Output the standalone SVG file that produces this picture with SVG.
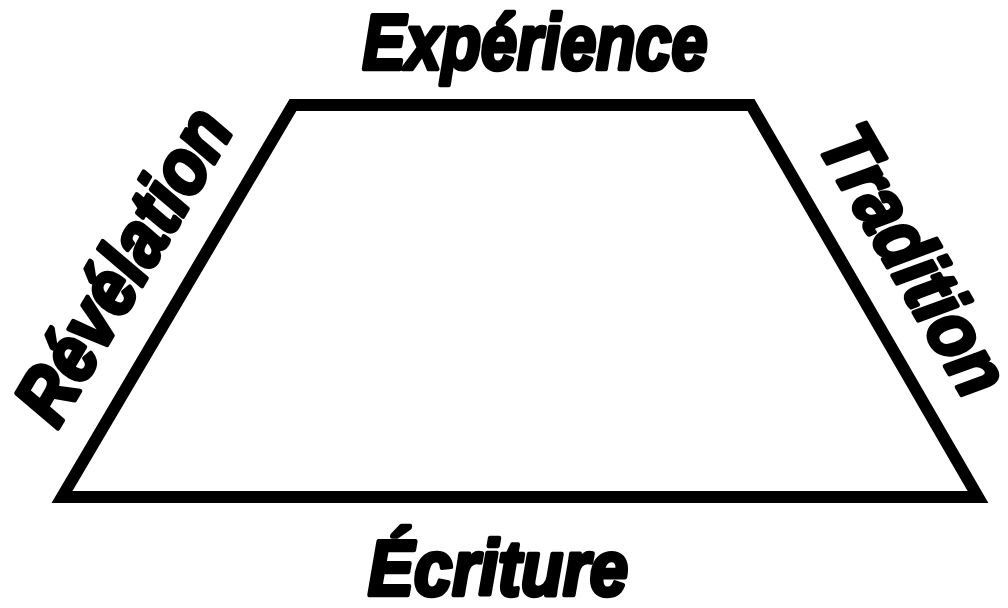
<svg xmlns="http://www.w3.org/2000/svg" width="1008" height="608" viewBox="0 0 1008 608">
<style>
.lbl{font-family:"Liberation Sans",Arial,sans-serif;font-weight:bold;font-style:italic;font-size:78px;fill:#000;stroke:#000;stroke-width:4.5;stroke-linejoin:round;text-anchor:middle}
.edge{fill:none;stroke:#000;stroke-width:12;stroke-linejoin:miter}
</style>
<rect width="1008" height="608" fill="#fff"/>
<g id="connectors">
<polygon class="edge" points="293,105 751,105 978,497 62,497"/>
</g>
<g id="experience"><text class="lbl" x="535" y="69" textLength="345" lengthAdjust="spacingAndGlyphs">Expérience</text></g>
<g id="ecriture"><text class="lbl" x="498" y="595" textLength="260" lengthAdjust="spacingAndGlyphs">Écriture</text></g>
<g id="revelation"><text class="lbl" transform="translate(146,279) rotate(-59.5)" x="0" y="0" textLength="350" lengthAdjust="spacingAndGlyphs">Révélation</text></g>
<g id="tradition"><text class="lbl" transform="translate(891,273) rotate(59.9)" x="0" y="0" textLength="298" lengthAdjust="spacingAndGlyphs">Tradition</text></g>
</svg>
